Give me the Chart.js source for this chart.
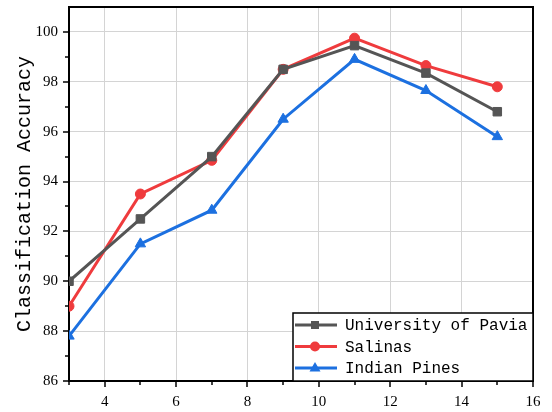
<!DOCTYPE html>
<html>
<head>
<meta charset="utf-8">
<script src="https://cdn.jsdelivr.net/npm/chart.js@4"></script>
<style>
  html, body { margin: 0; padding: 0; background: #fff; }
  #wrap { width: 552px; height: 412px; }
</style>
</head>
<body>
<div id="wrap"><canvas id="myChart" width="552" height="412"></canvas></div>
<script>
// data
const xValues = [3, 5, 7, 9, 11, 13, 15];
const paviaValues = [90.0, 92.5, 95.0, 98.5, 99.45, 98.35, 96.8];
const salinasValues = [89.0, 93.5, 94.85, 98.5, 99.75, 98.65, 97.8];
const pinesValues = [87.8, 91.5, 92.85, 96.5, 98.9, 97.65, 95.8];

const seriesNames = ["University of Pavia", "Salinas", "Indian Pines"];

const xTickLabels = [4, 6, 8, 10, 12, 14, 16];
const xMinorTicks = [3, 5, 7, 9, 11, 13, 15];
const yTickLabels = [86, 88, 90, 92, 94, 96, 98, 100];
const yMinorTicks = [87, 89, 91, 93, 95, 97, 99];

const axisTitle = "Classification Accuracy";

const GRAY = "#555555";
const RED = "#ef3b3d";
const BLUE = "#1c70e0";

function toPoints(vals) {
  return vals.map((v, i) => ({ x: xValues[i], y: v }));
}

function allTicks(major, minor) {
  return major.concat(minor).sort((a, b) => a - b).map((v) => ({ value: v }));
}

// draw one marker shape
function marker(c, style, x, y, color) {
  c.save();
  c.fillStyle = color;
  c.beginPath();
  if (style === "rect") {
    c.rect(x - 4, y - 4, 8, 8);
  } else if (style === "circle") {
    c.arc(x, y, 5, 0, Math.PI * 2);
  } else {
    c.moveTo(x, y - 6);
    c.lineTo(x + 5.5, y + 3.5);
    c.lineTo(x - 5.5, y + 3.5);
    c.closePath();
  }
  c.fill();
  c.restore();
}

// frame + tick marks under the data
const framePlugin = {
  id: "frame",
  beforeDatasetsDraw(chart) {
    const c = chart.ctx;
    const a = chart.chartArea;
    const xs = chart.scales.x;
    const ys = chart.scales.y;
    c.save();
    c.strokeStyle = "#000";
    c.lineWidth = 1.5;
    xTickLabels.concat(xMinorTicks).forEach((v) => {
      const px = Math.round(xs.getPixelForValue(v));
      const len = xTickLabels.includes(v) ? 6 : 4;
      c.beginPath();
      c.moveTo(px, a.bottom);
      c.lineTo(px, a.bottom + len);
      c.stroke();
    });
    yTickLabels.concat(yMinorTicks).forEach((v) => {
      const py = Math.round(ys.getPixelForValue(v));
      const len = yTickLabels.includes(v) ? 6 : 4;
      c.beginPath();
      c.moveTo(a.left, py);
      c.lineTo(a.left - len, py);
      c.stroke();
    });
    c.lineWidth = 2;
    c.strokeRect(a.left, a.top, a.right - a.left, a.bottom - a.top);
    c.restore();
  },
  afterDatasetsDraw(chart) {
    // legend box in the lower right corner
    const c = chart.ctx;
    const a = chart.chartArea;
    const left = 293, top = 313;
    c.save();
    c.fillStyle = "#fff";
    c.fillRect(left, top, a.right - left, a.bottom - top);
    c.strokeStyle = "#000";
    c.lineWidth = 1.5;
    c.strokeRect(left, top, a.right - left, a.bottom - top);
    c.font = "16px 'Liberation Mono'";
    c.textBaseline = "middle";
    chart.data.datasets.forEach((ds, i) => {
      const y = 325 + i * 21.5;
      c.strokeStyle = ds.borderColor;
      c.lineWidth = 3;
      c.beginPath();
      c.moveTo(left + 2, y);
      c.lineTo(337, y);
      c.stroke();
      marker(c, ds.pointStyle, 315, y, ds.borderColor);
      c.fillStyle = "#000";
      c.fillText(ds.label, 345, y + 1);
    });
    c.restore();
  }
};

var ctx = document.getElementById("myChart");

var myChart = new Chart(ctx, {
  type: "line",
  data: {
    datasets: [
      {
        label: seriesNames[0],
        data: toPoints(paviaValues),
        borderColor: GRAY,
        backgroundColor: GRAY,
        pointStyle: "rect",
        pointRadius: 6,
        borderWidth: 3,
        pointBorderWidth: 1,
        fill: false,
      },
      {
        label: seriesNames[1],
        data: toPoints(salinasValues),
        borderColor: RED,
        backgroundColor: RED,
        pointStyle: "circle",
        pointRadius: 5,
        borderWidth: 3,
        pointBorderWidth: 1,
        fill: false,
      },
      {
        label: seriesNames[2],
        data: toPoints(pinesValues),
        borderColor: BLUE,
        backgroundColor: BLUE,
        pointStyle: "triangle",
        pointRadius: 6,
        borderWidth: 3,
        pointBorderWidth: 1,
        fill: false,
      },
    ],
  },
  options: {
    responsive: false,
    animation: false,
    layout: { padding: { top: 6, right: 19, left: 0, bottom: 0 } },
    plugins: {
      legend: { display: false },
      tooltip: { enabled: false },
    },
    scales: {
      x: {
        type: "linear",
        min: 3,
        max: 16,
        afterBuildTicks: (s) => { s.ticks = allTicks(xTickLabels, xMinorTicks); },
        afterFit: (s) => { s.height = 31; s.paddingLeft = 0; s.paddingRight = 0; },
        border: { display: false },
        grid: {
          drawTicks: false,
          color: (c) => (xTickLabels.includes(c.tick.value) ? "#d4d4d4" : "rgba(0,0,0,0)"),
          lineWidth: 1,
        },
        ticks: {
          autoSkip: false,
          maxRotation: 0,
          padding: 12,
          color: "#000",
          font: { family: "'Liberation Serif'", size: 15 },
          callback: (v) => (xTickLabels.includes(v) ? String(v) : ""),
        },
      },
      y: {
        min: 86,
        max: 101,
        afterBuildTicks: (s) => { s.ticks = allTicks(yTickLabels, yMinorTicks); },
        afterFit: (s) => { s.width = 69; s.paddingTop = 0; s.paddingBottom = 0; },
        border: { display: false },
        grid: {
          drawTicks: false,
          color: (c) => (yTickLabels.includes(c.tick.value) ? "#d4d4d4" : "rgba(0,0,0,0)"),
          lineWidth: 1,
        },
        ticks: {
          autoSkip: false,
          padding: 11,
          color: "#000",
          font: { family: "'Liberation Serif'", size: 15 },
          callback: (v) => (yTickLabels.includes(v) ? String(v) : ""),
        },
        title: {
          display: true,
          text: axisTitle,
          color: "#000",
          font: { family: "'Liberation Mono'", size: 20 },
          padding: { top: 13, bottom: 0 },
        },
      },
    },
  },
  plugins: [framePlugin],
});
</script>
</body>
</html>
